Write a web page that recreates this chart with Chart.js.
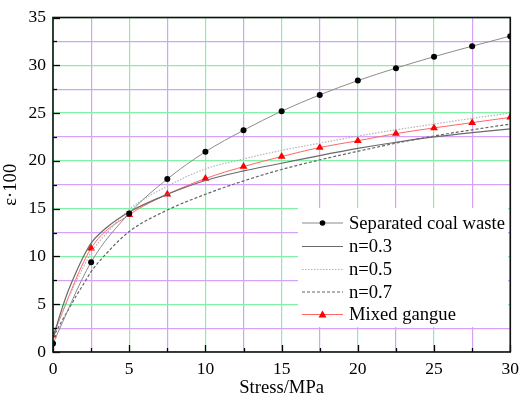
<!DOCTYPE html>
<html><head><meta charset="utf-8">
<script src="https://cdn.jsdelivr.net/npm/chart.js@4.4.1/dist/chart.umd.min.js"></script>
<style>html,body{margin:0;padding:0;background:#fff}#c{display:block}</style>
</head><body>
<canvas id="c" width="526" height="399"></canvas>
<script>
// ---- data ----
const stress = [0, 2.5, 5, 7.5, 10, 12.5, 15, 17.5, 20, 22.5, 25, 27.5, 30];
const separatedCoalWaste = [0.9, 9.4, 14.5, 18.1, 20.95, 23.2, 25.2, 26.9, 28.4, 29.7, 30.9, 32.0, 33.05];
const mixedGangue = [1.75, 10.85, 14.35, 16.5, 18.15, 19.4, 20.45, 21.4, 22.1, 22.85, 23.45, 24.0, 24.55];

const fitStress = [0, 0.5, 1, 1.5, 2, 2.5, 3.5, 5, 7.5, 10, 12.5, 15, 17.5, 20, 22.5, 25, 27.5, 30];
const fitN03 = [1.5, 4.1, 6.4, 8.3, 10.0, 11.4, 13.0, 14.65, 16.5, 17.95, 18.95, 19.75, 20.55, 21.3, 21.95, 22.5, 22.95, 23.35];
const fitN05 = [1.5, 3.8, 5.6, 7.3, 8.9, 10.4, 12.4, 14.9, 17.35, 19.15, 20.2, 21.1, 21.85, 22.6, 23.25, 23.85, 24.45, 25.0];
const fitN07 = [1.5, 3.0, 4.4, 5.8, 7.1, 8.4, 10.3, 12.6, 14.85, 16.5, 17.9, 19.1, 20.1, 21.0, 21.85, 22.6, 23.25, 23.85];

const xTickMajor = [0, 5, 10, 15, 20, 25, 30];
const yTickMajor = [0, 5, 10, 15, 20, 25, 30, 35];

const legendLabels = ['Separated coal waste', 'n=0.3', 'n=0.5', 'n=0.7', 'Mixed gangue'];

const FONT = '"Liberation Serif", "Times New Roman", serif';
const GREEN = '#84f2a6';
const PURPLE = '#d6a2f8';

const pts = (xs, ys) => xs.map((x, i) => ({x, y: ys[i]}));

const gridColor = ctx => (ctx.tick && Math.abs(ctx.tick.value % 5) < 1e-9) ? GREEN : PURPLE;

const deco = {
  id: 'deco',
  afterDraw(chart) {
    const c = chart.ctx, a = chart.chartArea;
    const xs = chart.scales.x, ys = chart.scales.y;
    c.save();
    // legend box
    const L = {x: 298, y: 208, w: 210, h: 119};
    c.fillStyle = '#fff';
    c.fillRect(L.x, L.y, L.w, L.h);
    const rowY = [223, 246.5, 269.5, 292, 314.5];
    const sx0 = 302, sx1 = 343, tx = 349;
    const styles = [
      {color: '#8c8c8c', dash: [], w: 1.2, marker: 'circle'},
      {color: '#6a6a6a', dash: [], w: 1.2},
      {color: '#b4b4b4', dash: [1.5, 1.5], w: 1.2},
      {color: '#666666', dash: [3, 2], w: 1.2},
      {color: '#ff6666', dash: [], w: 1.2, marker: 'triangle'}
    ];
    c.font = '18.6px ' + FONT;
    c.textBaseline = 'middle';
    c.textAlign = 'left';
    legendLabels.forEach((t, i) => {
      const s = styles[i], y = rowY[i];
      c.strokeStyle = s.color; c.lineWidth = s.w; c.setLineDash(s.dash);
      c.beginPath(); c.moveTo(sx0, y); c.lineTo(sx1, y); c.stroke();
      c.setLineDash([]);
      const mx = (sx0 + sx1) / 2;
      if (s.marker === 'circle') {
        c.fillStyle = '#000'; c.beginPath(); c.arc(mx, y, 2.8, 0, Math.PI * 2); c.fill();
      } else if (s.marker === 'triangle') {
        c.fillStyle = '#ff0000'; c.beginPath();
        c.moveTo(mx, y - 4); c.lineTo(mx + 4, y + 3); c.lineTo(mx - 4, y + 3); c.closePath(); c.fill();
      }
      c.fillStyle = '#000';
      c.fillText(t, tx, y + 1);
    });
    // inward tick marks on left and bottom axes
    c.strokeStyle = '#000'; c.lineWidth = 1.3;
    xs.ticks.forEach(tk => {
      const px = Math.round(xs.getPixelForValue(tk.value)) + 0.5;
      const len = (tk.value % 5 === 0) ? 7 : 4;
      c.beginPath(); c.moveTo(px, a.bottom); c.lineTo(px, a.bottom - len); c.stroke();
    });
    ys.ticks.forEach(tk => {
      const py = Math.round(ys.getPixelForValue(tk.value)) + 0.5;
      const len = (tk.value % 5 === 0) ? 7 : 4;
      c.beginPath(); c.moveTo(a.left, py); c.lineTo(a.left + len, py); c.stroke();
    });
    // frame
    c.lineWidth = 1.6; c.strokeStyle = '#111';
    c.strokeRect(a.left, a.top, a.right - a.left, a.bottom - a.top);
    c.restore();
  }
};

new Chart(document.getElementById('c'), {
  type: 'line',
  data: {
    datasets: [
      {label: legendLabels[0], data: pts(stress, separatedCoalWaste), borderColor: '#8c8c8c', borderWidth: 1,
       pointRadius: 3, pointBackgroundColor: '#000', pointBorderColor: '#000', pointBorderWidth: 0,
       cubicInterpolationMode: 'monotone', fill: false},
      {label: legendLabels[1], data: pts(fitStress, fitN03), borderColor: '#6a6a6a', borderWidth: 1.2,
       pointRadius: 0, cubicInterpolationMode: 'monotone', fill: false},
      {label: legendLabels[2], data: pts(fitStress, fitN05), borderColor: '#b4b4b4', borderWidth: 1.2,
       borderDash: [1.5, 1.5], pointRadius: 0, cubicInterpolationMode: 'monotone', fill: false},
      {label: legendLabels[3], data: pts(fitStress, fitN07), borderColor: '#666666', borderWidth: 1.2,
       borderDash: [3, 2], pointRadius: 0, cubicInterpolationMode: 'monotone', fill: false},
      {label: legendLabels[4], data: pts(stress, mixedGangue), borderColor: '#ff6666', borderWidth: 1,
       pointStyle: 'triangle', pointRadius: 4.5, pointBackgroundColor: '#ff0000', pointBorderColor: '#ff0000',
       pointBorderWidth: 0, cubicInterpolationMode: 'monotone', fill: false}
    ]
  },
  options: {
    responsive: false, animation: false, devicePixelRatio: 1,
    layout: {padding: {top: 6, right: 8, left: 0, bottom: 0}},
    plugins: {legend: {display: false}, tooltip: {enabled: false}},
    scales: {
      x: {
        type: 'linear', min: 0, max: 30,
        afterFit: s => { s.height = 47; },
        ticks: {stepSize: 2.5, maxTicksLimit: 40, autoSkip: false, maxRotation: 0, padding: 7,
                color: '#000', font: {family: FONT, size: 17.5},
                callback: v => xTickMajor.includes(v) ? String(v) : ''},
        grid: {color: gridColor, lineWidth: 1.2, drawTicks: false},
        border: {display: false},
        title: {display: true, text: 'Stress/MPa', color: '#000', font: {family: FONT, size: 18.6}, padding: {top: 4, bottom: 0}}
      },
      y: {
        type: 'linear', min: 0, max: 35,
        afterFit: s => { s.width = 53; },
        ticks: {stepSize: 2.5, maxTicksLimit: 40, autoSkip: false, padding: 7,
                color: '#000', font: {family: FONT, size: 17.5},
                callback: v => yTickMajor.includes(v) ? String(v) : ''},
        grid: {color: gridColor, lineWidth: 1.2, drawTicks: false},
        border: {display: false},
        title: {display: true, text: 'ε·100', color: '#000', font: {family: FONT, size: 18.6}, padding: {top: 0, bottom: 0}}
      }
    }
  },
  plugins: [deco]
});
</script>
</body></html>
